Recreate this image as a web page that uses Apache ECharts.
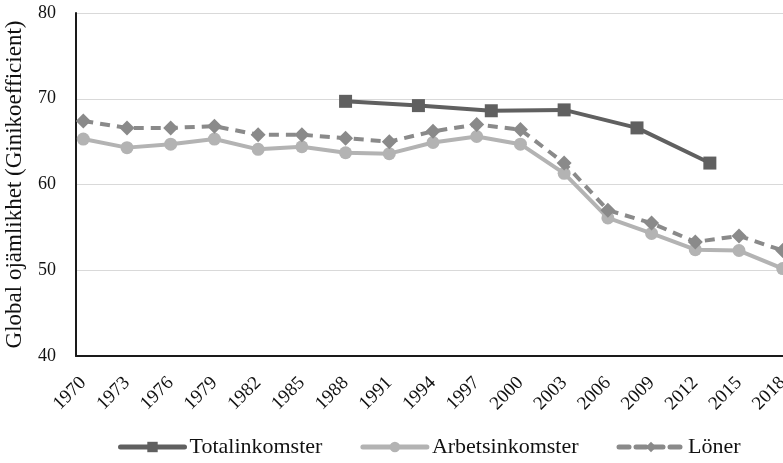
<!DOCTYPE html>
<html>
<head>
<meta charset="utf-8">
<script src="https://cdn.jsdelivr.net/npm/echarts@6/dist/echarts.min.js"></script>
<style>
  html, body { margin: 0; padding: 0; background: #fff; }
  #chart { width: 783px; height: 463px; }
</style>
</head>
<body>
<div id="chart"></div>
<script>
// years 1970..2018, one category per year, labels every third year
const years = [];
for (let y = 1970; y <= 2018; y++) years.push(String(y));

// Totalinkomster: 1988, 1993, 1998, 2003, 2008, 2013
const totalYears = ['1988', '1993', '1998', '2003', '2008', '2013'];
const totalValues = [69.7, 69.2, 68.6, 68.7, 66.6, 62.5];

// Arbetsinkomster och Löner: vart tredje år 1970..2018
const stepYears = ['1970', '1973', '1976', '1979', '1982', '1985', '1988', '1991', '1994',
  '1997', '2000', '2003', '2006', '2009', '2012', '2015', '2018'];
const arbetValues = [65.3, 64.3, 64.7, 65.3, 64.1, 64.4, 63.7, 63.6, 64.9,
  65.6, 64.7, 61.3, 56.1, 54.3, 52.4, 52.3, 50.2];
const lonerValues = [67.4, 66.6, 66.6, 66.8, 65.8, 65.8, 65.4, 65.0, 66.2,
  67.0, 66.4, 62.5, 57.0, 55.5, 53.3, 54.0, 52.3];

const yTicks = [40, 50, 60, 70, 80];

const toPairs = (xs, vs) => xs.map((x, i) => [x, vs[i]]);

const font = '"Liberation Serif", "DejaVu Serif", serif';
const chart = echarts.init(document.getElementById('chart'));

chart.setOption({
  animation: false,
  textStyle: { fontFamily: font },
  grid: { left: 76, top: 13, width: 714, height: 343, outerBoundsMode: 'none' },
  legend: {
    left: 113,
    bottom: 0,
    itemWidth: 64,
    itemHeight: 13,
    itemGap: 38,
    lineStyle: { width: 5, cap: 'round' },
    textStyle: { fontFamily: font, fontSize: 22, color: '#111' },
    data: ['Totalinkomster', 'Arbetsinkomster', 'Löner']
  },
  xAxis: {
    type: 'category',
    data: years,
    boundaryGap: true,
    axisLine: { lineStyle: { color: '#1a1a1a', width: 2 } },
    axisTick: { show: false },
    axisLabel: {
      interval: 2,
      rotate: 45,
      margin: 24,
      hideOverlap: false,
      fontFamily: font,
      fontSize: 19,
      color: '#111'
    }
  },
  yAxis: {
    type: 'value',
    min: yTicks[0],
    max: yTicks[yTicks.length - 1],
    interval: 10,
    name: 'Global ojämlikhet (Ginikoefficient)',
    nameLocation: 'middle',
    nameGap: 50,
    nameTextStyle: { fontFamily: font, fontSize: 23, color: '#111' },
    axisLine: { show: true, lineStyle: { color: '#1a1a1a', width: 2 } },
    axisTick: { show: false },
    axisLabel: { margin: 20, fontFamily: font, fontSize: 18, color: '#111' },
    splitLine: { lineStyle: { color: '#d9d9d9', width: 1 } }
  },
  series: [
    {
      name: 'Totalinkomster',
      type: 'line',
      data: toPairs(totalYears, totalValues),
      symbol: 'rect',
      symbolSize: 13,
      showAllSymbol: true,
      itemStyle: { color: '#606060' },
      lineStyle: { color: '#606060', width: 4 },
      z: 3
    },
    {
      name: 'Arbetsinkomster',
      type: 'line',
      data: toPairs(stepYears, arbetValues),
      symbol: 'circle',
      symbolSize: 13,
      showAllSymbol: true,
      itemStyle: { color: '#b3b3b3' },
      lineStyle: { color: '#b3b3b3', width: 4 },
      z: 1
    },
    {
      name: 'Löner',
      type: 'line',
      data: toPairs(stepYears, lonerValues),
      symbol: 'diamond',
      symbolSize: 15,
      showAllSymbol: true,
      itemStyle: { color: '#8a8a8a' },
      lineStyle: { color: '#8a8a8a', width: 4, type: [10, 7] },
      z: 2
    }
  ]
});
</script>
</body>
</html>
